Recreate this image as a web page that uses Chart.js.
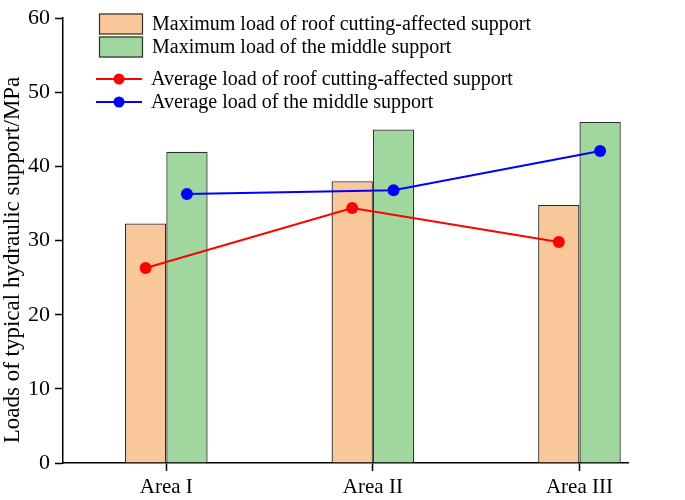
<!DOCTYPE html>
<html>
<head>
<meta charset="utf-8">
<script src="https://cdn.jsdelivr.net/npm/chart.js@4.4.1/dist/chart.umd.min.js"></script>
<style>
  html, body { margin: 0; padding: 0; background: #fff; }
  #wrap { width: 685px; height: 500px; }
</style>
</head>
<body>
<div id="wrap"><canvas id="loadChart" width="685" height="500"></canvas></div>
<script>
const areaLabels = ['Area I', 'Area II', 'Area III'];
const areaPositions = [1, 2, 3];
const maxRoofCut = [32.3, 38.0, 34.8];
const maxMiddle = [42.0, 45.0, 46.0];
const avgRoofCut = [26.3, 34.4, 29.8];
const avgMiddle = [36.3, 36.8, 42.1];
const yTicks = [0, 10, 20, 30, 40, 50, 60];

const seriesNames = [
  'Maximum load of roof cutting-affected support',
  'Maximum load of the middle support',
  'Average load of roof cutting-affected support',
  'Average load of the middle support'
];
const yTitle = 'Loads of typical hydraulic support/MPa';

const serif = "'Liberation Serif', 'Times New Roman', serif";
const groupWidth = 0.4; // categoryPercentage, two bars side by side
const barShift = groupWidth / 4; // centre of each bar inside its group

const toPoints = (values, shift) => values.map((v, i) => ({ x: areaPositions[i] + shift, y: v }));

// legend drawn inside the plot, top left, like the original figure
const figureLegend = {
  id: 'figureLegend',
  afterDraw(chart) {
    const ctx = chart.ctx;
    const ds = chart.data.datasets;
    ctx.save();
    ctx.font = '20px ' + serif;
    ctx.textBaseline = 'middle';
    ctx.textAlign = 'left';

    const boxRows = [24, 47];
    [0, 1].forEach((k, r) => {
      ctx.fillStyle = ds[k].backgroundColor;
      ctx.fillRect(99, boxRows[r] - 10.5, 44, 21);
      ctx.strokeStyle = ds[k].borderColor;
      ctx.lineWidth = 1.2;
      ctx.strokeRect(99.5, boxRows[r] - 10, 43, 20);
      ctx.fillStyle = '#000';
      ctx.fillText(ds[k].label, 152, boxRows[r] + 1);
    });

    const lineRows = [79, 102];
    [2, 3].forEach((k, r) => {
      const y = lineRows[r];
      ctx.strokeStyle = ds[k].borderColor;
      ctx.lineWidth = 2;
      ctx.beginPath();
      ctx.moveTo(96, y);
      ctx.lineTo(142, y);
      ctx.stroke();
      ctx.fillStyle = ds[k].borderColor;
      ctx.beginPath();
      ctx.arc(119, y, 5.5, 0, Math.PI * 2);
      ctx.fill();
      ctx.fillStyle = '#000';
      ctx.fillText(ds[k].label, 151, y + 1);
    });

    // y axis title
    ctx.translate(13, 260);
    ctx.rotate(-Math.PI / 2);
    ctx.textAlign = 'center';
    ctx.font = '23px ' + serif;
    ctx.fillText(yTitle, 0, 0);
    ctx.restore();
  }
};

const ctx = document.getElementById('loadChart').getContext('2d');
new Chart(ctx, {
  type: 'bar',
  data: {
    datasets: [
      {
        label: seriesNames[0],
        data: toPoints(maxRoofCut, 0),
        backgroundColor: '#fac898',
        borderColor: '#2e2e2e',
        borderWidth: 1.3,
        categoryPercentage: groupWidth,
        barPercentage: 1,
        order: 1
      },
      {
        label: seriesNames[1],
        data: toPoints(maxMiddle, 0),
        backgroundColor: '#9fd79f',
        borderColor: '#2e2e2e',
        borderWidth: 1.3,
        categoryPercentage: groupWidth,
        barPercentage: 1,
        order: 1
      },
      {
        type: 'line',
        label: seriesNames[2],
        data: toPoints(avgRoofCut, -barShift),
        borderColor: '#ff0000',
        backgroundColor: '#ff0000',
        borderWidth: 2,
        pointRadius: 6,
        pointBackgroundColor: '#ff0000',
        pointBorderWidth: 0,
        order: 0
      },
      {
        type: 'line',
        label: seriesNames[3],
        data: toPoints(avgMiddle, barShift),
        borderColor: '#0000ff',
        backgroundColor: '#0000ff',
        borderWidth: 2,
        pointRadius: 6,
        pointBackgroundColor: '#0000ff',
        pointBorderWidth: 0,
        order: 0
      }
    ]
  },
  options: {
    responsive: false,
    animation: false,
    layout: { padding: { top: 8, right: 57, left: 0, bottom: 0 } },
    plugins: {
      legend: { display: false },
      tooltip: { enabled: false }
    },
    scales: {
      x: {
        type: 'linear',
        offset: false,
        min: 0.5,
        max: 3.235,
        afterFit: s => { s.height = 37; },
        afterBuildTicks: s => { s.ticks = areaPositions.map(v => ({ value: v })); },
        ticks: {
          color: '#000',
          font: { family: serif, size: 21 },
          padding: 4,
          maxRotation: 0,
          callback: v => areaLabels[areaPositions.indexOf(v)]
        },
        grid: { offset: false, drawOnChartArea: false, tickLength: 8, color: '#000', tickWidth: 1.5 },
        border: { color: '#000', width: 1.5 }
      },
      y: {
        min: 0,
        max: 60,
        afterFit: s => { s.width = 63; },
        afterBuildTicks: s => { s.ticks = yTicks.map(v => ({ value: v })); },
        ticks: {
          color: '#000',
          font: { family: serif, size: 22 },
          padding: 5
        },
        grid: { drawOnChartArea: false, tickLength: 8, color: '#000', tickWidth: 1.5 },
        border: { color: '#000', width: 1.5 }
      }
    }
  },
  plugins: [figureLegend]
});
</script>
</body>
</html>
